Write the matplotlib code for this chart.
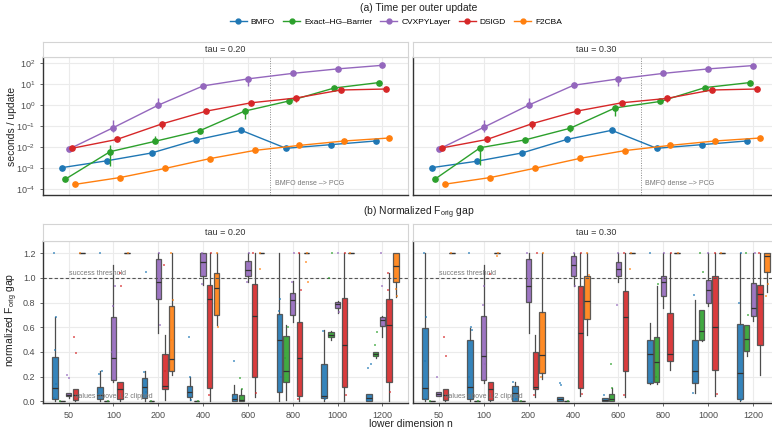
import matplotlib
matplotlib.use("Agg")
import matplotlib.pyplot as plt
from matplotlib.lines import Line2D
import numpy as np

plt.rcParams['font.family'] = ['Liberation Sans', 'DejaVu Sans']
plt.rcParams['mathtext.default'] = 'regular'

n_labels = ['50', '100', '200', '400', '600', '800', '1000', '1200']
methods = ['BMFO', 'Exact\u2013HG\u2013Barrier', 'CVXPYLayer', 'DSIGD', 'F2CBA']
colors = ['#1f77b4', '#2ca02c', '#9467bd', '#d62728', '#ff7f0e']
taus = ['tau = 0.20', 'tau = 0.30']

# ---- (a) seconds per outer update
time20_bmfo = [1.04e-3, 2.2e-3, 5.2e-3, 0.022, 0.063, 0.0087, 0.013, 0.0195]
time20_exact = [2.9e-4, 0.006, 0.0187, 0.06, 0.52, 1.6, 6.6, 12]
time20_cvx = [0.0078, 0.085, 1.0, 8.3, 18, 33, 54, 80]
time20_dsigd = [0.0087, 0.023, 0.126, 0.52, 1.3, 2.2, 5.3, 5.9]
time20_f2cba = [1.66e-4, 3.5e-4, 9.5e-4, 2.8e-3, 6.9e-3, 0.012, 0.0195, 0.027]

time30_bmfo = [1.04e-3, 2.1e-3, 5.2e-3, 0.023, 0.063, 0.0087, 0.013, 0.0195]
time30_exact = [3.0e-4, 0.0093, 0.022, 0.079, 0.74, 1.5, 6.9, 12]
time30_cvx = [0.0078, 0.087, 1.0, 8.9, 18, 33, 54, 78]
time30_dsigd = [0.0091, 0.023, 0.13, 0.52, 1.3, 2.1, 5.3, 5.9]
time30_f2cba = [1.7e-4, 3.5e-4, 9.8e-4, 2.9e-3, 6.8e-3, 0.012, 0.0195, 0.027]

# error bars: (method index, n index, low, high)
err20 = [(2, 1, 0.055, 0.195), (2, 2, 0.71, 2.1), (2, 4, 8.5, 21),
         (1, 1, 0.00126, 0.0126), (1, 2, 0.015, 0.032), (1, 3, 0.049, 0.085),
         (1, 4, 0.22, 0.7), (1, 5, 1.15, 2.0), (3, 2, 0.07, 0.16), (3, 5, 1.4, 2.6)]
err30 = [(2, 1, 0.055, 0.195), (2, 2, 0.71, 2.1), (2, 4, 8.5, 21),
         (1, 1, 0.0014, 0.0113), (1, 3, 0.05, 0.1), (1, 4, 0.31, 1.0),
         (3, 1, 0.018, 0.03), (3, 2, 0.07, 0.16), (3, 5, 1.4, 2.6)]

# ---- (b) normalized F_orig gap boxes: (whislo, q1, med, q3, whishi)
Z = (0.0, 0.0, 0.0, 0.003, 0.005)
C = (1.2, 1.2, 1.2, 1.2, 1.2)
box20_bmfo = [(0.0, 0.02, 0.11, 0.36, 0.68), (0.0, 0.02, 0.054, 0.116, 0.25),
              (0.0, 0.025, 0.116, 0.186, 0.25), (0.01, 0.033, 0.073, 0.127, 0.20),
              (0.0, 0.0, 0.02, 0.06, 0.13), (0.0, 0.076, 0.50, 0.707, 1.2),
              (0.0, 0.024, 0.046, 0.302, 0.578), (0.0, 0.0, 0.03, 0.057, 0.06)]
box20_exact = [Z, Z, Z, Z, (0.0, 0.0, 0.013, 0.05, 0.10),
               (0.01, 0.156, 0.249, 0.532, 0.62), (0.50, 0.518, 0.54, 0.559, 0.57),
               (0.35, 0.364, 0.383, 0.397, 0.40)]
box20_cvx = [(0.03, 0.04, 0.05, 0.065, 0.07), (0.16, 0.175, 0.348, 0.683, 1.10),
             (0.55, 0.829, 0.969, 1.152, 1.2), (0.945, 1.012, 1.128, 1.2, 1.2),
             (0.969, 1.012, 1.063, 1.134, 1.2), (0.64, 0.702, 0.823, 0.877, 0.977),
             (0.715, 0.756, 0.788, 0.807, 0.81), (0.518, 0.613, 0.661, 0.686, 0.69)]
box20_dsigd = [(0.0, 0.008, 0.05, 0.10, 0.10), (0.0, 0.019, 0.10, 0.154, 0.154),
               (0.01, 0.10, 0.127, 0.383, 0.54), (0.0, 0.108, 0.829, 0.945, 1.2),
               (0.038, 0.2, 0.688, 0.95, 1.2), (0.0, 0.04, 0.348, 0.645, 1.2),
               (0.0, 0.113, 0.456, 0.837, 1.2), (0.0, 0.159, 0.618, 0.829, 1.04)]
box20_f2cba = [C, C, (0.21, 0.243, 0.343, 0.775, 1.2), (0.618, 0.699, 0.918, 1.039, 1.2),
               C, C, C, (0.842, 0.969, 1.098, 1.2, 1.2)]

box30_bmfo = [(0.0, 0.022, 0.108, 0.594, 1.2), (0.0, 0.022, 0.116, 0.494, 0.594),
              (0.0, 0.005, 0.068, 0.127, 0.157), (0.0, 0.005, 0.02, 0.035, 0.035),
              (0.0, 0.0, 0.01, 0.03, 0.03), (0.143, 0.148, 0.383, 0.5, 0.635),
              (0.068, 0.148, 0.243, 0.494, 0.82), (0.0, 0.022, 0.229, 0.626, 1.2)]
box30_exact = [Z, Z, Z, Z, (0.0, 0.0, 0.02, 0.06, 0.11),
               (0.14, 0.154, 0.318, 0.518, 0.937), (0.486, 0.5, 0.567, 0.742, 0.742),
               (0.364, 0.405, 0.508, 0.62, 0.62)]
box30_cvx = [(0.04, 0.045, 0.06, 0.08, 0.08), (0.15, 0.175, 0.37, 0.688, 1.107),
             (0.553, 0.802, 0.931, 1.152, 1.2), (0.931, 1.018, 1.104, 1.18, 1.2),
             (0.964, 1.018, 1.07, 1.125, 1.2), (0.756, 0.856, 0.963, 1.018, 1.2),
             (0.77, 0.797, 0.90, 0.985, 1.2), (0.65, 0.688, 0.756, 0.958, 1.2)]
box30_dsigd = [(0.0, 0.008, 0.05, 0.10, 0.10), (0.0, 0.014, 0.10, 0.154, 0.154),
               (0.035, 0.10, 0.116, 0.397, 0.54), (0.04, 0.108, 0.553, 0.937, 1.2),
               (0.038, 0.248, 0.686, 0.896, 1.2), (0.251, 0.324, 0.383, 0.716, 1.2),
               (0.04, 0.251, 0.599, 1.012, 1.2), (0.216, 0.459, 0.872, 0.945, 1.2)]
box30_f2cba = [C, C, (0.18, 0.23, 0.378, 0.724, 1.2), (0.54, 0.667, 0.815, 1.012, 1.2),
               C, C, C, (0.883, 1.047, 1.18, 1.2, 1.2)]

# individual runs visible as dots: (n index, value)
pts20_bmfo = [(0, 1.2), (0, 0.68), (0, 0.42), (0, 0.14), (0, 0.03), (1, 1.2), (1, 0.25),
              (1, 0.22), (1, 0.06), (2, 1.05), (2, 0.24), (2, 0.08), (3, 0.52), (3, 0.2),
              (3, 0.01), (4, 0.33), (4, 0.03), (5, 0.83), (5, 0.73), (5, 0.2), (6, 0.57),
              (6, 0.02), (7, 0.30), (7, 0.27), (7, 0.01)]
pts20_exact = [(0, 0.0), (1, 0.0), (2, 0.0), (3, 0.0), (4, 0.19), (4, 0.1), (5, 0.6),
               (5, 0.35), (6, 1.0), (6, 1.2), (6, 0.52), (7, 0.56), (7, 0.46), (7, 0.37)]
pts20_cvx = [(0, 0.21), (0, 0.19), (1, 0.77), (1, 0.93), (1, 0.4), (2, 1.2), (2, 0.62),
             (3, 1.2), (3, 0.95), (4, 1.2), (4, 0.97), (5, 1.2), (5, 0.97), (6, 1.2),
             (6, 0.72), (7, 0.93), (7, 1.2)]
pts20_dsigd = [(0, 0.52), (0, 0.39), (1, 1.04), (1, 0.93), (2, 1.1), (2, 0.25), (3, 1.2),
               (3, 0.05), (4, 1.2), (4, 0.07), (5, 1.2), (5, 0.9), (5, 0.02), (6, 1.2),
               (6, 0.05), (7, 0.9), (7, 1.04), (7, 0.08)]
pts20_f2cba = [(0, 1.2), (1, 1.2), (2, 1.2), (2, 0.82), (2, 0.5), (3, 1.2), (3, 0.6),
               (4, 1.2), (4, 1.07), (5, 1.2), (5, 1.13), (5, 0.97), (6, 1.2), (7, 0.91),
               (7, 0.85)]

pts30_bmfo = [(0, 1.2), (0, 0.68), (0, 0.33), (0, 0.02), (1, 1.2), (1, 0.6), (1, 0.58),
              (1, 0.2), (2, 0.16), (2, 0.02), (3, 0.15), (3, 0.13), (4, 0.05), (5, 1.2),
              (5, 0.16), (6, 0.86), (6, 0.07), (7, 1.2), (7, 0.8), (7, 0.01)]
pts30_exact = [(0, 0.0), (1, 0.0), (2, 0.0), (3, 0.0), (4, 0.3), (4, 0.11), (5, 0.95),
               (5, 0.2), (6, 1.2), (6, 1.05), (7, 1.2), (7, 0.7)]
pts30_cvx = [(0, 0.2), (1, 0.93), (1, 0.78), (1, 0.3), (2, 1.2), (3, 1.2), (3, 0.93),
             (4, 1.2), (4, 0.78), (5, 1.2), (6, 1.2), (7, 1.2)]
pts30_dsigd = [(0, 0.52), (0, 0.37), (1, 1.03), (2, 1.2), (2, 0.05), (3, 1.2), (3, 0.06),
               (4, 1.2), (4, 0.05), (5, 1.2), (6, 1.2), (6, 0.06), (7, 1.2)]
pts30_f2cba = [(0, 1.2), (1, 1.2), (1, 1.18), (2, 1.2), (2, 0.2), (3, 1.2), (3, 1.02),
               (4, 1.2), (4, 1.07), (5, 1.2), (6, 1.2), (7, 0.95), (7, 0.85)]

times = [[time20_bmfo, time20_exact, time20_cvx, time20_dsigd, time20_f2cba],
         [time30_bmfo, time30_exact, time30_cvx, time30_dsigd, time30_f2cba]]
errs = [err20, err30]
boxes = [[box20_bmfo, box20_exact, box20_cvx, box20_dsigd, box20_f2cba],
         [box30_bmfo, box30_exact, box30_cvx, box30_dsigd, box30_f2cba]]
points = [[pts20_bmfo, pts20_exact, pts20_cvx, pts20_dsigd, pts20_f2cba],
          [pts30_bmfo, pts30_exact, pts30_cvx, pts30_dsigd, pts30_f2cba]]

W, H = 772, 434
fig = plt.figure(figsize=(W / 100, H / 100), dpi=100)


def rect(x0, y0, x1, y1):
    return [x0 / W, 1 - y1 / H, (x1 - x0) / W, (y1 - y0) / H]


def style_panel(ax, left):
    for s in ['top', 'right']:
        ax.spines[s].set_color('#d4d4d4')
        ax.spines[s].set_linewidth(0.8)
    for s in ['left', 'bottom']:
        ax.spines[s].set_color('#333333')
        ax.spines[s].set_linewidth(1.0)
    ax.grid(True, color='#ebebeb', lw=0.8)
    ax.set_axisbelow(True)
    ax.tick_params(labelsize=6.5, colors='#4d4d4d', length=2, width=0.6)
    if not left:
        ax.tick_params(axis='y', labelleft=False, length=0)


def strip(r, txt):
    s = fig.add_axes(r)
    s.set_xticks([])
    s.set_yticks([])
    for sp in s.spines.values():
        sp.set_color('#d4d4d4')
        sp.set_linewidth(0.8)
    s.text(0.5, 0.5, txt, ha='center', va='center', fontsize=6.5, color='#333333',
           transform=s.transAxes)


xs = np.arange(len(n_labels))
top_off = [-0.15, -0.075, 0.0, 0.075, 0.15]
box_off = [-0.3, -0.15, 0.0, 0.15, 0.3]
jit = [-0.035, 0.02, -0.01, 0.03, -0.025, 0.01, 0.035, -0.02]
xlim = (-0.57, 7.57)

panel_x = [(43, 408), (413, 779)]

# ---------- (a) time
for t in range(2):
    x0, x1 = panel_x[t]
    ax = fig.add_axes(rect(x0, 57, x1, 195))
    strip(rect(x0, 42, x1, 57), taus[t])
    for m in range(5):
        ax.plot(xs + top_off[m], times[t][m], color=colors[m], lw=1.0, marker='o',
                ms=3.8, zorder=3)
    for (m, i, lo, hi) in errs[t]:
        ax.vlines(i + top_off[m], lo, hi, color=colors[m], lw=1.0, zorder=3)
    ax.set_yscale('log')
    ax.set_ylim(10 ** -4.29, 10 ** 2.3)
    ax.set_yticks([1e-4, 1e-3, 1e-2, 1e-1, 1e0, 1e1, 1e2])
    ax.minorticks_off()
    ax.set_xlim(*xlim)
    ax.set_xticks(xs)
    ax.set_xticklabels([])
    style_panel(ax, t == 0)
    ax.tick_params(axis='x', length=0)
    ax.axvline(4.5, color='#888888', lw=0.7, ls=(0, (1, 1.5)))
    ax.text(4.6, 10 ** -3.72, 'BMFO dense \u2013> PCG', fontsize=5, color='#777777',
            va='center', ha='left')

# ---------- (b) normalized gap
for t in range(2):
    x0, x1 = panel_x[t]
    ax = fig.add_axes(rect(x0, 240.7, x1, 403.3))
    strip(rect(x0, 224.3, x1, 240.7), taus[t])
    for m in range(5):
        stats = [dict(whislo=b[0], q1=b[1], med=b[2], q3=b[3], whishi=b[4], fliers=[])
                 for b in boxes[t][m]]
        ax.bxp(stats, positions=xs + box_off[m], widths=0.12, patch_artist=True,
               showcaps=False, showfliers=False,
               boxprops=dict(facecolor=colors[m], edgecolor='#4d4d4d', lw=0.9, alpha=0.9),
               whiskerprops=dict(color='#4d4d4d', lw=0.9),
               medianprops=dict(color='#333333', lw=0.9))
        px = [i + box_off[m] + jit[k % len(jit)] for k, (i, v) in enumerate(points[t][m])]
        py = [v for (i, v) in points[t][m]]
        ax.scatter(px, py, s=3.5, marker='s', color=colors[m], alpha=0.6, lw=0, zorder=4)
    ax.axhline(1.0, color='#555555', lw=0.8, ls=(0, (3, 2)), zorder=2)
    ax.text(0.0, 1.005, 'success threshold', fontsize=5, color='#777777', va='bottom',
            ha='left')
    ax.text(0.15, 0.012, 'values above 1.2 clipped', fontsize=5, color='#777777',
            va='bottom', ha='left', zorder=6)
    ax.set_ylim(-0.015, 1.3)
    ax.set_yticks([0.0, 0.2, 0.4, 0.6, 0.8, 1.0, 1.2])
    ax.set_yticklabels(['0.0', '0.2', '0.4', '0.6', '0.8', '1.0', '1.2'])
    ax.set_xlim(*xlim)
    ax.set_xticks(xs)
    ax.set_xticklabels(n_labels)
    style_panel(ax, t == 0)

# ---------- titles, labels, legend
fig.text(419 / W, 1 - 8 / H, '(a) Time per outer update', ha='center', va='center',
         fontsize=7.5, color='#222222')
fig.text(419 / W, 1 - 213 / H, '(b) Normalized F$_{orig}$ gap', ha='center',
         va='center', fontsize=7.5, color='#222222')
fig.text(12 / W, 1 - 126 / H, 'seconds / update', rotation=90, ha='center',
         va='center', fontsize=7.5, color='#222222')
fig.text(12 / W, 1 - 320 / H, 'normalized F$_{orig}$ gap', rotation=90, ha='center',
         va='center', fontsize=7.5, color='#222222')
fig.text(411 / W, 1 - 424 / H, 'lower dimension n', ha='center', va='center',
         fontsize=7.5, color='#222222')

handles = [Line2D([], [], color=c, lw=1.0, marker='o', ms=3.5) for c in colors]
fig.legend(handles, methods, loc='center', bbox_to_anchor=(396 / W, 1 - 22 / H),
           ncol=5, frameon=False, fontsize=6, handlelength=2.0, columnspacing=1.0,
           handletextpad=0.5)

fig.savefig('out.png', dpi=100)
